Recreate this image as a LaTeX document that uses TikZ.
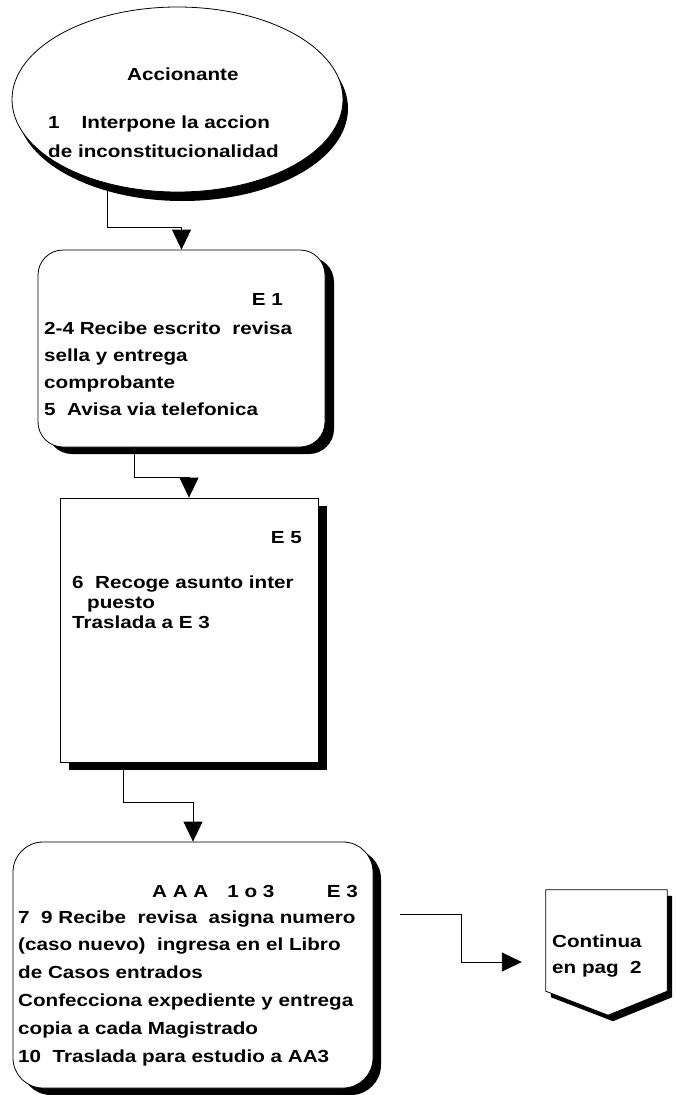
\documentclass[tikz,border=0pt]{standalone}
\usepackage{fontspec}
\setmainfont{Liberation Sans}[FakeStretch=1.18]
\usetikzlibrary{arrows.meta,shadows,calc,shapes.geometric}

\tikzset{
  shade/.style 2 args={drop shadow={shadow xshift=#1, shadow yshift=#2, fill=black, opacity=1}},
  stepbox/.style={draw, line width=0.8pt, fill=white, inner sep=0pt},
  conn/.style={line width=0.9pt, -{Triangle[length=20pt,width=19pt]}},
  txt/.style={inner sep=0pt, anchor=base west},
  rtxt/.style={inner sep=0pt, anchor=base east},
}

\begin{document}
\begin{tikzpicture}[x=1pt, y=-1pt, font=\fontsize{17.5}{20}\selectfont\bfseries]
\useasboundingbox (0,0) rectangle (675,1095);

% process shapes
\node[stepbox, ellipse, minimum width=331pt, minimum height=185pt, shade={5pt}{-9pt}] (acc) at (177.5,99.5) {};
\node[stepbox, rectangle, rounded corners=25pt, minimum width=287pt, minimum height=197pt, shade={9pt}{-7pt}] (e1) at (181.5,348.5) {};
\node[stepbox, rectangle, minimum width=258pt, minimum height=264pt, shade={9pt}{-8pt}] (e5) at (189,630) {};
\node[stepbox, rectangle, rounded corners=30pt, minimum width=360pt, minimum height=246pt, shade={8pt}{-7pt}] (e3) at (193,965) {};

% off-page connector
\node[inner sep=0pt, minimum width=121pt, minimum height=101pt] (cont) at (606.5,940.5) {};
\path[draw, line width=0.8pt, fill=white, shade={5pt}{-6pt}]
  (cont.north west) -- (cont.north east) -- (cont.south east)
  -- ($(cont.south)+(1.5,24)$) -- (cont.south west) -- cycle;

% texts
\node[txt] (t0) at (127,80) {Accionante};
\node[txt] (t1) at (48,128) {1\hspace{22pt}Interpone la accion};
\node[txt] (t2) at (48,157) {de inconstitucionalidad};

\node[rtxt] (e1lab) at (283,305) {E 1};
\node[txt] (e1a) at (44,334) {2-4 Recibe escrito\ \ revisa};
\node[txt] (e1b) at (44,361) {sella y entrega};
\node[txt] (e1c) at (44,388) {comprobante};
\node[txt] (e1d) at (44,415) {5\ \ Avisa via telefonica};

\node[rtxt] (e5lab) at (302,543) {E 5};
\node[txt] (e5a) at (72,588) {6\ \ Recoge asunto inter};
\node[txt] (e5b) at (87,608) {puesto};
\node[txt] (e5c) at (72,628) {Traslada a E 3};

\node[txt] (e3aaa) at (152,897) {A A A\hspace{19pt}1 o 3};
\node[rtxt] (e3lab) at (358,897) {E 3};
\node[txt] (e3a) at (18,923) {7\ \ 9 Recibe\ \ revisa\ \ asigna numero};
\node[txt] (e3b) at (18,950) {(caso nuevo)\ \ ingresa en el Libro};
\node[txt] (e3c) at (18,978) {de Casos entrados};
\node[txt] (e3d) at (18,1006) {Confecciona expediente y entrega};
\node[txt] (e3e) at (18,1034) {copia a cada Magistrado};
\node[txt] (e3f) at (18,1062) {10\ \ Traslada para estudio a AA3};

\node[txt] (c1) at (552,947) {Continua};
\node[txt] (c2) at (552,973) {en pag\ \ 2};

% connectors
\draw[conn] (acc.230) |- ($(e1.north)+(0,-22)$) -- (e1.north);
\draw[conn] ($(e1.south west)+(97,0)$) |- ($(e5.north)+(0,-20)$) -- (e5.north);
\draw[conn] ($(e5.south west)+(64,0)$) |- ($(e3.north)+(0,-39)$) -- (e3.north);
\coordinate (out4) at ($(e3.east)+(27,-51)$);
\coordinate (in4) at ($(cont.west)+(-24,21.5)$);
\draw[conn] (out4) -| ($(out4)!0.5!(in4)$) |- (in4);
\end{tikzpicture}
\end{document}
